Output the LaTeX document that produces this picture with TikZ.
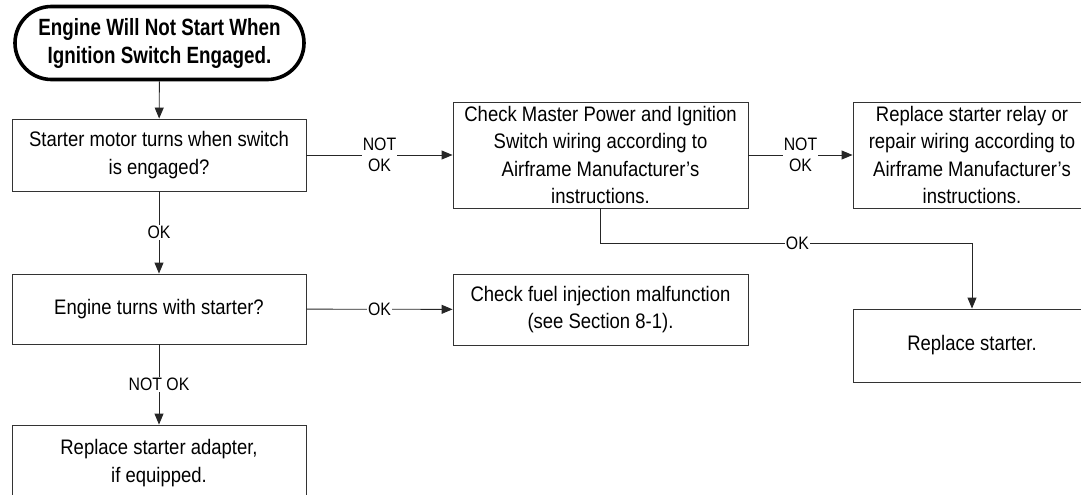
\documentclass[tikz,border=0pt]{standalone}
\usepackage{fontspec}
\setmainfont[FakeStretch=0.88]{Liberation Sans}
\newfontfamily\titlefont[FakeStretch=0.8]{Liberation Sans}
\usetikzlibrary{shapes.misc,arrows.meta}
\begin{document}
\begin{tikzpicture}[x=1pt,y=-1pt,
  box/.style={draw=black!80,line width=0.9pt,fill=white,inner sep=0pt,align=center,
    font=\fontsize{21}{27.5}\selectfont},
  term/.style={draw=black,line width=3.6pt,rounded rectangle,inner sep=0pt,align=center,
    minimum width=289pt,minimum height=73pt,font=\titlefont\bfseries\fontsize{23.5}{28}\selectfont},
  conn/.style={draw=black!85,line width=0.9pt},
  arr/.style={conn,-{Triangle[length=11pt,width=9pt]}},
  lbl/.style={fill=white,inner sep=1pt,align=center,font=\fontsize{18}{21}\selectfont}]
\useasboundingbox (0,0) rectangle (1081,495);
\node[term] (start) at (159.5,43) {Engine Will Not Start When\\Ignition Switch Engaged.};
\node[box,minimum width=294pt,minimum height=72pt] (b1) at (159,155) {Starter motor turns when switch\\is engaged?};
\node[box,minimum width=295pt,minimum height=106pt] (b2) at (600.5,155) {Check Master Power and Ignition\\Switch wiring according to\\Airframe Manufacturer’s\\instructions.};
\node[box,minimum width=238pt,minimum height=106pt] (b3) at (972,155) {Replace starter relay or\\repair wiring according to\\Airframe Manufacturer’s\\instructions.};
\node[box,minimum width=294pt,minimum height=70pt] (b4) at (159,309) {Engine turns with starter?};
\node[box,minimum width=295pt,minimum height=71pt] (fuel) at (600.5,309.5) {Check fuel injection malfunction\\(see Section 8-1).};
\node[box,minimum width=238pt,minimum height=73pt] (rs) at (972,345.5) {Replace starter.};
\node[box,minimum width=294pt,minimum height=76pt] (b5) at (159,463) {Replace starter adapter,\\if equipped.};
\draw[arr] (start) -- (b1);
\draw[arr] (b1) -- node[lbl]{OK} (b4);
\draw[arr] (b4) -- node[lbl]{NOT OK} (b5);
\draw[arr] (b1) -- node[lbl]{NOT\\OK} (b2);
\draw[arr] (b2) -- node[lbl]{NOT\\OK} (b3);
\draw[arr] (b4) -- node[lbl]{OK} (fuel);
\draw[arr] (b2.south) -- (b2.south |- 0,243) -- node[lbl,pos=0.53]{OK} (rs.north |- 0,243) -- (rs.north);
\end{tikzpicture}
\end{document}
